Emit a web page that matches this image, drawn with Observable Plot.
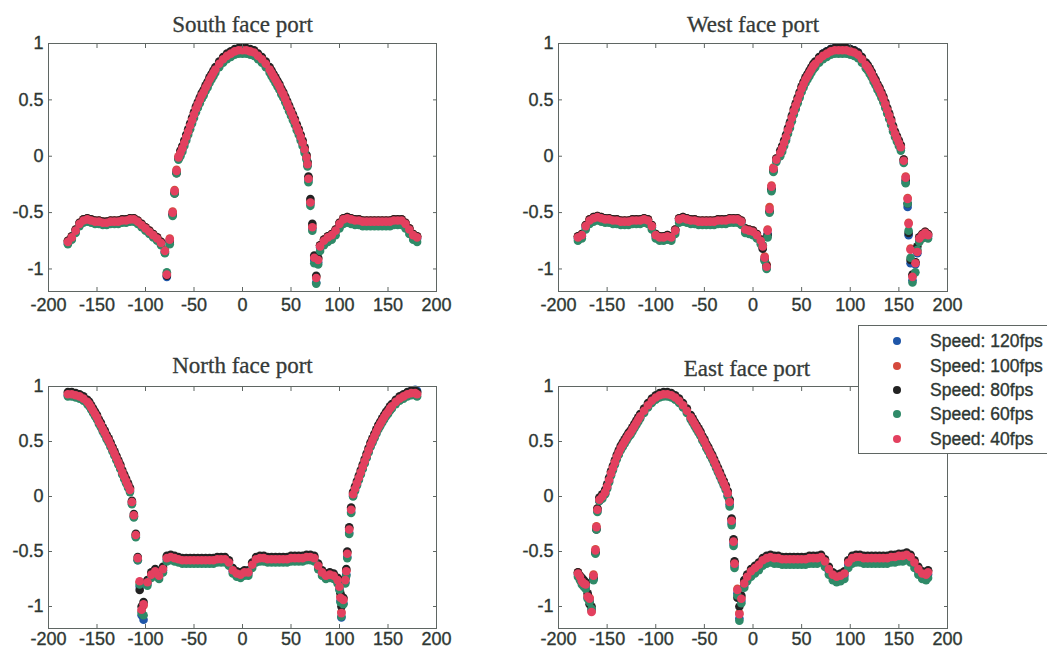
<!DOCTYPE html>
<html><head><meta charset="utf-8">
<script src="https://cdn.jsdelivr.net/npm/d3@7"></script>
<script src="https://cdn.jsdelivr.net/npm/@observablehq/plot@0.6"></script>
<style>
html,body{margin:0;padding:0;background:#fff;}
#root{position:relative;width:1047px;height:652px;overflow:hidden;background:#fff;}
.panel{position:absolute;}
.panel g[aria-label$="tick label"] text{stroke:#2e3733;stroke-width:0.35px;}
#legend{position:absolute;left:858px;top:325px;width:200px;height:127px;border:1px solid #5f6663;background:#fff;font-family:"Liberation Sans",Arial,sans-serif;font-size:17.5px;color:#2e3733;z-index:5;}
.row{position:absolute;left:0;height:24px;line-height:24px;width:200px;}
.dot{position:absolute;left:34px;top:8px;width:8px;height:8px;border-radius:50%;}
.lab{position:absolute;left:71px;white-space:nowrap;-webkit-text-stroke:0.35px #2e3733;}
</style></head><body><div id="root"></div>
<script>
const speeds = ["Speed: 120fps", "Speed: 100fps", "Speed: 80fps", "Speed: 60fps", "Speed: 40fps"];
const colors = ["#1f56a8", "#d5493c", "#222222", "#2f8a68", "#e3405f"];
const xTicks = [-200, -150, -100, -50, 0, 50, 100, 150, 200];
const yTicks = [-1, -0.5, 0, 0.5, 1];
const titles = ["South face port", "West face port", "North face port", "East face port"];

// ---------- South ----------
const southAngle = [-180,-176,-172,-168,-164,-160,-156,-152,-148,-144,-140,-136,-132,-128,-124,-120,-116,-112,-108,-104,-100,-96,-92,-88,-84,
 -80,-78,-75,-72,-70,-68,-66,
 -64,-60,-56,-52,-48,-44,-40,-36,-32,-28,-24,-20,-16,-12,-8,-4,0,4,8,12,16,20,24,28,32,36,40,44,48,52,56,60,64,
 66,67,68,70,72,74,76,78,
 80,84,88,92,96,100,104,108,112,116,120,124,128,132,136,140,144,148,152,156,160,164,168,172,176,180];
const south40 = [-0.76,-0.72,-0.66,-0.60,-0.57,-0.56,-0.57,-0.58,-0.58,-0.59,-0.59,-0.58,-0.58,-0.58,-0.57,-0.57,-0.56,-0.56,-0.58,-0.61,-0.64,-0.67,-0.70,-0.73,-0.77,
 -0.84,-1.05,-0.74,-0.50,-0.31,-0.13,-0.01,
 0.03,0.12,0.22,0.32,0.42,0.50,0.57,0.64,0.71,0.77,0.82,0.86,0.89,0.91,0.93,0.94,0.94,0.94,0.93,0.92,0.89,0.86,0.82,0.77,0.71,0.65,0.58,0.51,0.43,0.35,0.26,0.17,0.06,
 -0.01,-0.07,-0.20,-0.41,-0.63,-0.90,-1.08,-0.92,
 -0.80,-0.75,-0.72,-0.70,-0.66,-0.60,-0.56,-0.55,-0.56,-0.57,-0.57,-0.58,-0.58,-0.58,-0.58,-0.58,-0.58,-0.58,-0.58,-0.57,-0.57,-0.57,-0.60,-0.65,-0.70,-0.72];
const south80 = [-0.75,-0.71,-0.65,-0.59,-0.56,-0.55,-0.56,-0.57,-0.57,-0.58,-0.58,-0.57,-0.57,-0.57,-0.56,-0.56,-0.55,-0.55,-0.57,-0.60,-0.63,-0.66,-0.69,-0.72,-0.76,
 -0.85,-1.06,-0.76,-0.52,-0.33,-0.15,-0.02,
 0.05,0.14,0.24,0.34,0.44,0.52,0.59,0.66,0.73,0.79,0.84,0.88,0.91,0.93,0.95,0.96,0.96,0.96,0.95,0.94,0.91,0.88,0.84,0.79,0.73,0.67,0.60,0.53,0.45,0.37,0.28,0.19,0.08,
 0.01,-0.05,-0.18,-0.38,-0.60,-0.88,-1.06,-0.90,
 -0.79,-0.74,-0.71,-0.69,-0.65,-0.59,-0.55,-0.54,-0.55,-0.56,-0.56,-0.57,-0.57,-0.57,-0.57,-0.57,-0.57,-0.57,-0.57,-0.56,-0.56,-0.56,-0.59,-0.64,-0.69,-0.71];
const south60 = [-0.78,-0.74,-0.68,-0.62,-0.59,-0.58,-0.59,-0.60,-0.60,-0.61,-0.61,-0.60,-0.60,-0.60,-0.59,-0.59,-0.58,-0.58,-0.60,-0.63,-0.66,-0.69,-0.72,-0.75,-0.79,
 -0.86,-1.03,-0.78,-0.53,-0.33,-0.15,-0.03,
 0.00,0.09,0.19,0.29,0.39,0.47,0.54,0.61,0.68,0.74,0.79,0.83,0.86,0.88,0.90,0.91,0.91,0.91,0.90,0.89,0.86,0.83,0.79,0.74,0.68,0.62,0.55,0.48,0.40,0.32,0.23,0.14,0.03,
 -0.03,-0.09,-0.23,-0.44,-0.66,-0.95,-1.13,-0.96,
 -0.84,-0.79,-0.76,-0.74,-0.70,-0.64,-0.60,-0.59,-0.60,-0.61,-0.61,-0.62,-0.62,-0.62,-0.62,-0.62,-0.62,-0.62,-0.62,-0.61,-0.61,-0.61,-0.64,-0.69,-0.74,-0.76];
const south100 = [-0.75,-0.71,-0.65,-0.59,-0.56,-0.55,-0.56,-0.57,-0.57,-0.58,-0.58,-0.57,-0.57,-0.57,-0.56,-0.56,-0.55,-0.55,-0.57,-0.60,-0.63,-0.66,-0.69,-0.72,-0.76,
 -0.83,-1.04,-0.73,-0.49,-0.30,-0.12,0.00,
 0.04,0.13,0.23,0.33,0.43,0.51,0.58,0.65,0.72,0.78,0.83,0.87,0.90,0.92,0.94,0.95,0.95,0.95,0.94,0.93,0.90,0.87,0.83,0.78,0.72,0.66,0.59,0.52,0.44,0.36,0.27,0.18,0.07,
 0.00,-0.06,-0.19,-0.40,-0.62,-0.89,-1.07,-0.91,
 -0.79,-0.74,-0.71,-0.69,-0.65,-0.59,-0.55,-0.54,-0.55,-0.56,-0.56,-0.57,-0.57,-0.57,-0.57,-0.57,-0.57,-0.57,-0.57,-0.56,-0.56,-0.56,-0.59,-0.64,-0.69,-0.71];
const south120 = [-0.77,-0.73,-0.67,-0.61,-0.58,-0.57,-0.58,-0.59,-0.59,-0.60,-0.60,-0.59,-0.59,-0.59,-0.58,-0.58,-0.57,-0.57,-0.59,-0.62,-0.65,-0.68,-0.71,-0.74,-0.78,
 -0.85,-1.07,-0.75,-0.51,-0.32,-0.14,-0.02,
 0.02,0.11,0.21,0.31,0.41,0.49,0.56,0.63,0.70,0.76,0.81,0.85,0.88,0.90,0.92,0.93,0.93,0.93,0.92,0.91,0.88,0.85,0.81,0.76,0.70,0.64,0.57,0.50,0.42,0.34,0.25,0.16,0.05,
 -0.02,-0.08,-0.21,-0.42,-0.64,-0.92,-1.12,-0.94,
 -0.81,-0.76,-0.73,-0.71,-0.67,-0.61,-0.57,-0.56,-0.57,-0.58,-0.58,-0.59,-0.59,-0.59,-0.59,-0.59,-0.59,-0.59,-0.59,-0.58,-0.58,-0.58,-0.61,-0.66,-0.71,-0.73];
// extra readings on the steep flanks of the South peak
const southFlankAngle = [-62,-58,-54,-50,-46,-42,-38,-34,-30, 30,34,38,42,46,50,54,58,62];
const southFlank40 = [0.07,0.17,0.27,0.37,0.46,0.54,0.61,0.68,0.74, 0.74,0.68,0.62,0.55,0.47,0.39,0.31,0.22,0.12];
const southFlank80 = [0.09,0.19,0.29,0.39,0.48,0.56,0.63,0.70,0.76, 0.76,0.70,0.64,0.57,0.49,0.41,0.33,0.24,0.14];
const southFlank60 = [0.04,0.14,0.24,0.34,0.43,0.51,0.58,0.65,0.71, 0.71,0.65,0.59,0.52,0.44,0.36,0.28,0.19,0.09];
const southFlank100 = [0.08,0.18,0.28,0.38,0.47,0.55,0.62,0.69,0.75, 0.75,0.69,0.63,0.56,0.48,0.40,0.32,0.23,0.13];
const southFlank120 = [0.06,0.16,0.26,0.36,0.45,0.53,0.60,0.67,0.73, 0.73,0.67,0.61,0.54,0.46,0.38,0.30,0.21,0.11];

// ---------- West ----------
const westAngle = [-180,-176,-172,-168,-164,-160,-156,-152,-148,-144,-140,-136,-132,-128,-124,-120,-116,-112,-108,-104,-100,-96,-92,-88,-84,-80,-76,-72,-68,-64,-60,-56,-52,-48,-44,-40,-36,-32,-28,-24,-20,-16,-12,-8,-4,0,4,8,
 10,12,14,15,17,19,21,24,
 28,32,36,40,44,48,52,56,60,64,68,72,76,80,84,88,92,96,100,104,108,112,116,120,124,128,132,136,140,144,148,152,
 155,157,159,160,162,164,167,169,
 171,174,177,180];
const west40 = [-0.72,-0.70,-0.62,-0.57,-0.55,-0.54,-0.55,-0.56,-0.56,-0.57,-0.57,-0.58,-0.58,-0.58,-0.57,-0.57,-0.57,-0.56,-0.57,-0.62,-0.70,-0.72,-0.72,-0.71,-0.72,-0.66,-0.56,-0.55,-0.56,-0.57,-0.57,-0.58,-0.58,-0.58,-0.58,-0.58,-0.57,-0.57,-0.57,-0.56,-0.56,-0.56,-0.58,-0.65,-0.66,-0.67,-0.70,-0.75,
 -0.80,-0.90,-0.98,-0.66,-0.47,-0.27,-0.11,-0.03,
 0.03,0.12,0.23,0.34,0.45,0.55,0.64,0.71,0.77,0.82,0.86,0.89,0.91,0.93,0.94,0.94,0.94,0.94,0.93,0.92,0.90,0.86,0.81,0.76,0.69,0.62,0.55,0.46,0.36,0.25,0.16,0.08,
 -0.04,-0.19,-0.38,-0.60,-0.83,-1.07,-0.95,-0.85,
 -0.73,-0.70,-0.68,-0.70];
const west80 = [-0.71,-0.69,-0.61,-0.56,-0.54,-0.53,-0.54,-0.55,-0.55,-0.56,-0.56,-0.57,-0.57,-0.57,-0.56,-0.56,-0.56,-0.55,-0.56,-0.61,-0.69,-0.71,-0.71,-0.70,-0.71,-0.65,-0.55,-0.54,-0.55,-0.56,-0.56,-0.57,-0.57,-0.57,-0.57,-0.57,-0.56,-0.56,-0.56,-0.55,-0.55,-0.55,-0.57,-0.64,-0.65,-0.66,-0.69,-0.74,
 -0.82,-0.92,-0.97,-0.70,-0.49,-0.29,-0.13,-0.02,
 0.05,0.14,0.25,0.36,0.47,0.57,0.66,0.73,0.79,0.84,0.88,0.91,0.93,0.95,0.96,0.96,0.96,0.96,0.95,0.94,0.92,0.88,0.83,0.78,0.71,0.64,0.57,0.48,0.38,0.27,0.18,0.10,
 -0.03,-0.21,-0.42,-0.68,-0.92,-1.05,-0.94,-0.80,
 -0.72,-0.69,-0.67,-0.69];
const west60 = [-0.75,-0.73,-0.65,-0.60,-0.58,-0.57,-0.58,-0.59,-0.59,-0.60,-0.60,-0.61,-0.61,-0.61,-0.60,-0.60,-0.60,-0.59,-0.60,-0.65,-0.73,-0.75,-0.75,-0.74,-0.75,-0.69,-0.59,-0.58,-0.59,-0.60,-0.60,-0.61,-0.61,-0.61,-0.61,-0.61,-0.60,-0.60,-0.60,-0.59,-0.59,-0.59,-0.61,-0.68,-0.69,-0.70,-0.73,-0.78,
 -0.79,-0.93,-1.00,-0.72,-0.50,-0.31,-0.14,-0.05,
 0.00,0.09,0.20,0.31,0.42,0.52,0.61,0.68,0.74,0.79,0.83,0.86,0.88,0.90,0.91,0.91,0.91,0.91,0.90,0.89,0.87,0.83,0.78,0.73,0.66,0.59,0.52,0.43,0.33,0.22,0.13,0.05,
 -0.06,-0.24,-0.42,-0.66,-0.90,-1.12,-1.03,-0.83,
 -0.76,-0.73,-0.71,-0.73];
const west100 = [-0.71,-0.69,-0.61,-0.56,-0.54,-0.53,-0.54,-0.55,-0.55,-0.56,-0.56,-0.57,-0.57,-0.57,-0.56,-0.56,-0.56,-0.55,-0.56,-0.61,-0.69,-0.71,-0.71,-0.70,-0.71,-0.65,-0.55,-0.54,-0.55,-0.56,-0.56,-0.57,-0.57,-0.57,-0.57,-0.57,-0.56,-0.56,-0.56,-0.55,-0.55,-0.55,-0.57,-0.64,-0.65,-0.66,-0.69,-0.74,
 -0.79,-0.89,-0.96,-0.65,-0.45,-0.26,-0.10,-0.02,
 0.04,0.13,0.24,0.35,0.46,0.56,0.65,0.72,0.78,0.83,0.87,0.90,0.92,0.94,0.95,0.95,0.95,0.95,0.94,0.93,0.91,0.87,0.82,0.77,0.70,0.63,0.56,0.47,0.37,0.26,0.17,0.09,
 -0.03,-0.18,-0.37,-0.59,-0.82,-1.06,-0.94,-0.84,
 -0.72,-0.69,-0.67,-0.69];
const west120 = [-0.73,-0.71,-0.63,-0.58,-0.56,-0.55,-0.56,-0.57,-0.57,-0.58,-0.58,-0.59,-0.59,-0.59,-0.58,-0.58,-0.58,-0.57,-0.58,-0.63,-0.71,-0.73,-0.73,-0.72,-0.73,-0.67,-0.57,-0.56,-0.57,-0.58,-0.58,-0.59,-0.59,-0.59,-0.59,-0.59,-0.58,-0.58,-0.58,-0.57,-0.57,-0.57,-0.59,-0.66,-0.67,-0.68,-0.71,-0.76,
 -0.81,-0.91,-0.99,-0.69,-0.49,-0.29,-0.12,-0.04,
 0.02,0.11,0.22,0.33,0.44,0.54,0.63,0.70,0.76,0.82,0.87,0.91,0.93,0.95,0.96,0.96,0.96,0.96,0.95,0.94,0.92,0.86,0.80,0.75,0.68,0.61,0.54,0.45,0.35,0.24,0.15,0.07,
 -0.05,-0.23,-0.45,-0.70,-0.95,-1.10,-0.96,-0.86,
 -0.74,-0.71,-0.69,-0.71];
const westFlankAngle = [30,34,38,42,46,50,54,58,62, 118,122,126,130,134,138,142,146,150];
const westFlank40 = [0.07,0.17,0.28,0.40,0.50,0.60,0.68,0.74,0.80, 0.79,0.73,0.66,0.59,0.51,0.41,0.31,0.20,0.12];
const westFlank80 = [0.09,0.19,0.30,0.42,0.52,0.62,0.70,0.76,0.82, 0.81,0.75,0.68,0.61,0.53,0.43,0.33,0.22,0.14];
const westFlank60 = [0.04,0.14,0.25,0.37,0.47,0.57,0.65,0.71,0.77, 0.76,0.70,0.63,0.56,0.48,0.38,0.28,0.17,0.09];
const westFlank100 = [0.08,0.18,0.29,0.41,0.51,0.61,0.69,0.75,0.81, 0.80,0.74,0.67,0.60,0.52,0.42,0.32,0.21,0.13];
const westFlank120 = [0.06,0.16,0.27,0.39,0.49,0.59,0.67,0.73,0.79, 0.78,0.72,0.65,0.58,0.50,0.40,0.30,0.19,0.11];

// ---------- North ----------
const northAngle = [-180,-176,-172,-168,-164,-160,-156,-152,-148,-144,-140,-136,-132,-128,-124,-120,-116,
 -114,-112,-110,-108,-106,-104,-102,
 -98,-94,-90,-86,-82,-78,-74,-70,-66,-62,-58,-54,-50,-46,-42,-38,-34,-30,-26,-22,-18,-14,-10,-6,-2,2,6,10,14,18,22,26,30,34,38,42,46,50,54,58,62,66,70,74,78,82,86,90,94,98,
 100,101,102,104,106,107,108,110,112,
 114,118,122,126,130,134,138,142,146,150,154,158,162,166,170,174,178,180];
const north40 = [0.93,0.93,0.92,0.91,0.89,0.86,0.81,0.75,0.68,0.61,0.54,0.47,0.39,0.31,0.22,0.14,0.06,
 -0.05,-0.17,-0.35,-0.56,-0.77,-1.03,-0.98,
 -0.78,-0.71,-0.68,-0.72,-0.66,-0.56,-0.55,-0.56,-0.57,-0.58,
 -0.58,-0.58,-0.58,-0.58,-0.58,-0.58,-0.58,-0.58,-0.57,-0.57,
 -0.57,-0.60,-0.67,-0.70,-0.71,-0.69,-0.69,-0.62,-0.57,-0.56,
 -0.56,-0.57,-0.57,-0.57,-0.57,-0.57,-0.57,-0.56,-0.56,-0.56,
 -0.56,-0.55,-0.55,-0.56,-0.63,-0.69,-0.72,-0.71,-0.72,-0.76,
 -0.82,-0.92,-1.06,-0.94,-0.76,-0.68,-0.52,-0.30,-0.12,
 0.02,0.12,0.22,0.32,0.42,0.51,0.59,0.66,0.72,0.77,0.82,0.86,0.89,0.91,0.93,0.94,0.94,0.93];
const north80 = [0.95,0.95,0.94,0.93,0.91,0.88,0.83,0.77,0.70,0.63,0.56,0.49,0.41,0.33,0.24,0.16,0.08,
 -0.04,-0.16,-0.34,-0.55,-0.85,-1.00,-0.96,
 -0.76,-0.69,-0.66,-0.70,-0.64,-0.54,-0.53,-0.54,-0.55,-0.56,
 -0.56,-0.56,-0.56,-0.56,-0.56,-0.56,-0.56,-0.56,-0.55,-0.55,
 -0.55,-0.58,-0.65,-0.68,-0.69,-0.67,-0.67,-0.60,-0.55,-0.54,
 -0.54,-0.55,-0.55,-0.55,-0.55,-0.55,-0.55,-0.54,-0.54,-0.54,
 -0.54,-0.53,-0.53,-0.54,-0.61,-0.67,-0.70,-0.69,-0.70,-0.74,
 -0.80,-0.88,-1.00,-0.92,-0.74,-0.66,-0.50,-0.28,-0.10,
 0.04,0.14,0.24,0.34,0.44,0.53,0.61,0.68,0.74,0.79,0.84,0.88,0.91,0.93,0.95,0.96,0.96,0.95];
const north60 = [0.91,0.91,0.90,0.89,0.87,0.84,0.79,0.73,0.66,0.59,0.52,0.45,0.37,0.29,0.20,0.12,0.04,
 -0.07,-0.19,-0.37,-0.58,-0.80,-1.06,-1.08,
 -0.81,-0.74,-0.71,-0.75,-0.69,-0.59,-0.58,-0.59,-0.60,-0.61,
 -0.61,-0.61,-0.61,-0.61,-0.61,-0.61,-0.61,-0.61,-0.60,-0.60,
 -0.60,-0.63,-0.70,-0.73,-0.74,-0.72,-0.72,-0.65,-0.60,-0.59,
 -0.59,-0.60,-0.60,-0.60,-0.60,-0.60,-0.60,-0.59,-0.59,-0.59,
 -0.59,-0.58,-0.58,-0.59,-0.66,-0.72,-0.75,-0.74,-0.75,-0.79,
 -0.85,-0.96,-1.09,-0.98,-0.79,-0.72,-0.56,-0.34,-0.15,
 0.00,0.10,0.20,0.30,0.40,0.49,0.57,0.64,0.70,0.75,0.80,0.84,0.87,0.89,0.91,0.92,0.92,0.91];
const north100 = [0.94,0.94,0.93,0.92,0.90,0.87,0.82,0.76,0.69,0.62,0.55,0.48,0.40,0.32,0.23,0.15,0.07,
 -0.05,-0.18,-0.35,-0.57,-0.78,-1.04,-0.99,
 -0.77,-0.70,-0.67,-0.71,-0.65,-0.55,-0.54,-0.55,-0.56,-0.57,
 -0.57,-0.57,-0.57,-0.57,-0.57,-0.57,-0.57,-0.57,-0.56,-0.56,
 -0.56,-0.59,-0.66,-0.69,-0.70,-0.68,-0.68,-0.61,-0.56,-0.55,
 -0.55,-0.56,-0.56,-0.56,-0.56,-0.56,-0.56,-0.55,-0.55,-0.55,
 -0.55,-0.54,-0.54,-0.55,-0.62,-0.68,-0.71,-0.70,-0.71,-0.75,
 -0.81,-0.91,-1.05,-0.93,-0.75,-0.67,-0.51,-0.29,-0.11,
 0.03,0.13,0.23,0.33,0.43,0.52,0.60,0.67,0.73,0.78,0.83,0.87,0.90,0.92,0.94,0.95,0.95,0.94];
const north120 = [0.92,0.92,0.91,0.90,0.88,0.85,0.80,0.74,0.67,0.60,0.53,0.46,0.38,0.30,0.21,0.13,0.05,
 -0.06,-0.18,-0.36,-0.58,-0.82,-1.08,-1.12,
 -0.79,-0.72,-0.69,-0.73,-0.67,-0.57,-0.56,-0.57,-0.58,-0.59,
 -0.59,-0.59,-0.59,-0.59,-0.59,-0.59,-0.59,-0.59,-0.58,-0.58,
 -0.58,-0.61,-0.68,-0.71,-0.72,-0.70,-0.70,-0.63,-0.58,-0.57,
 -0.57,-0.58,-0.58,-0.58,-0.58,-0.58,-0.58,-0.57,-0.57,-0.57,
 -0.57,-0.56,-0.56,-0.57,-0.64,-0.70,-0.73,-0.72,-0.73,-0.77,
 -0.84,-0.95,-1.10,-0.97,-0.78,-0.71,-0.55,-0.33,-0.14,
 0.01,0.11,0.21,0.31,0.41,0.50,0.58,0.65,0.71,0.76,0.81,0.85,0.88,0.91,0.94,0.96,0.97,0.96];
const northFlankAngle = [-158,-154,-150,-146,-142,-138,-134,-130,-126,-122,-118, 116,120,124,128,132,136,140,144,148,152];
const northFlank40 = [0.84,0.78,0.72,0.65,0.58,0.51,0.43,0.35,0.27,0.18,0.10, 0.07,0.17,0.27,0.37,0.47,0.55,0.63,0.69,0.75,0.80];
const northFlank80 = [0.86,0.80,0.74,0.67,0.60,0.53,0.45,0.37,0.29,0.20,0.12, 0.09,0.19,0.29,0.39,0.49,0.57,0.65,0.71,0.77,0.82];
const northFlank60 = [0.82,0.76,0.70,0.63,0.56,0.49,0.41,0.33,0.25,0.16,0.08, 0.05,0.15,0.25,0.35,0.45,0.53,0.61,0.67,0.73,0.78];
const northFlank100 = [0.85,0.79,0.73,0.66,0.59,0.52,0.44,0.36,0.28,0.19,0.11, 0.08,0.18,0.28,0.38,0.48,0.56,0.64,0.70,0.76,0.81];
const northFlank120 = [0.83,0.77,0.71,0.64,0.57,0.50,0.42,0.34,0.26,0.17,0.09, 0.06,0.16,0.26,0.36,0.46,0.54,0.62,0.68,0.74,0.79];

// ---------- East ----------
const eastAngle = [-180,-178,-176,-174,-172,-170,-168,-166,-164,-162,-161,-160,-158,
 -155,-152,-148,-144,-140,-136,-132,-128,-124,-120,-116,-112,-108,-104,-100,-96,-92,-88,-84,-80,-76,-72,-68,-64,-60,-56,-52,-48,-44,-40,-36,-32,-28,
 -26,-24,-22,-20,-19,-16,-14,-12,-9,-6,
 -2,2,6,10,14,18,22,26,30,34,38,42,46,50,54,58,62,66,70,74,78,82,86,90,94,98,102,106,110,114,118,122,126,130,134,138,142,146,150,154,158,162,166,170,174,178,180];
const east40 = [-0.70,-0.73,-0.77,-0.79,-0.80,-0.91,-0.93,-1.05,-0.72,-0.49,-0.28,-0.12,-0.03,
 0.00,0.04,0.15,0.26,0.36,0.44,0.50,0.56,0.61,0.67,0.73,0.78,0.83,0.87,0.90,0.92,0.93,0.93,0.92,0.90,0.87,0.83,0.78,0.72,0.66,0.60,0.53,0.46,0.39,0.32,0.24,0.16,0.08,
 0.03,-0.05,-0.22,-0.41,-0.61,-0.85,-1.07,-0.93,-0.79,-0.73,
 -0.68,-0.65,-0.62,-0.58,-0.56,-0.55,-0.56,-0.56,-0.57,-0.57,
 -0.57,-0.57,-0.57,-0.57,-0.57,-0.56,-0.56,-0.56,-0.55,-0.59,
 -0.66,-0.71,-0.73,-0.72,-0.70,-0.60,-0.56,-0.55,-0.55,-0.56,
 -0.56,-0.56,-0.56,-0.56,-0.56,-0.56,-0.55,-0.55,-0.54,-0.54,
 -0.53,-0.55,-0.60,-0.66,-0.70,-0.71,-0.69];
const east80 = [-0.69,-0.72,-0.74,-0.76,-0.78,-0.88,-0.98,-1.00,-0.74,-0.51,-0.30,-0.11,-0.01,
 0.02,0.06,0.17,0.28,0.38,0.46,0.52,0.58,0.63,0.69,0.75,0.80,0.85,0.89,0.92,0.94,0.95,0.95,0.94,0.92,0.89,0.85,0.80,0.74,0.68,0.62,0.55,0.48,0.41,0.34,0.26,0.18,0.10,
 0.05,-0.03,-0.20,-0.39,-0.59,-0.92,-1.00,-0.90,-0.76,-0.71,
 -0.66,-0.63,-0.60,-0.56,-0.54,-0.53,-0.54,-0.54,-0.55,-0.55,
 -0.55,-0.55,-0.55,-0.55,-0.55,-0.54,-0.54,-0.54,-0.53,-0.57,
 -0.64,-0.69,-0.71,-0.70,-0.68,-0.58,-0.54,-0.53,-0.53,-0.54,
 -0.54,-0.54,-0.54,-0.54,-0.54,-0.54,-0.53,-0.53,-0.52,-0.52,
 -0.51,-0.53,-0.58,-0.64,-0.68,-0.69,-0.67];
const east60 = [-0.73,-0.76,-0.80,-0.82,-0.84,-0.93,-0.96,-1.02,-0.76,-0.52,-0.30,-0.14,-0.04,
 -0.02,0.02,0.13,0.24,0.34,0.42,0.48,0.54,0.59,0.65,0.71,0.76,0.81,0.85,0.88,0.90,0.91,0.91,0.90,0.88,0.85,0.81,0.76,0.70,0.64,0.58,0.51,0.44,0.37,0.30,0.22,0.14,0.06,
 0.00,-0.09,-0.26,-0.45,-0.65,-0.90,-1.13,-0.97,-0.83,-0.77,
 -0.73,-0.70,-0.67,-0.63,-0.61,-0.60,-0.61,-0.61,-0.62,-0.62,
 -0.62,-0.62,-0.62,-0.62,-0.62,-0.61,-0.61,-0.61,-0.60,-0.64,
 -0.71,-0.76,-0.78,-0.77,-0.75,-0.65,-0.61,-0.60,-0.60,-0.61,
 -0.61,-0.61,-0.61,-0.61,-0.61,-0.61,-0.60,-0.60,-0.59,-0.59,
 -0.58,-0.60,-0.65,-0.71,-0.75,-0.76,-0.74];
const east100 = [-0.69,-0.72,-0.76,-0.78,-0.79,-0.90,-0.92,-1.04,-0.71,-0.48,-0.27,-0.11,-0.02,
 0.01,0.05,0.16,0.27,0.37,0.45,0.51,0.57,0.62,0.68,0.74,0.79,0.84,0.88,0.91,0.93,0.94,0.94,0.93,0.91,0.88,0.84,0.79,0.73,0.67,0.61,0.54,0.47,0.40,0.33,0.25,0.17,0.09,
 0.04,-0.04,-0.21,-0.40,-0.60,-0.84,-1.06,-0.92,-0.78,-0.72,
 -0.67,-0.64,-0.61,-0.57,-0.55,-0.54,-0.55,-0.55,-0.56,-0.56,
 -0.56,-0.56,-0.56,-0.56,-0.56,-0.55,-0.55,-0.55,-0.54,-0.58,
 -0.65,-0.70,-0.72,-0.71,-0.69,-0.59,-0.55,-0.54,-0.54,-0.55,
 -0.55,-0.55,-0.55,-0.55,-0.55,-0.55,-0.54,-0.54,-0.53,-0.53,
 -0.52,-0.54,-0.59,-0.65,-0.69,-0.70,-0.68];
const east120 = [-0.71,-0.74,-0.78,-0.80,-0.81,-0.92,-0.95,-1.03,-0.75,-0.51,-0.29,-0.13,-0.04,
 -0.01,0.03,0.14,0.25,0.35,0.43,0.49,0.55,0.60,0.66,0.72,0.77,0.82,0.86,0.89,0.91,0.92,0.92,0.91,0.89,0.86,0.82,0.77,0.71,0.65,0.59,0.52,0.45,0.38,0.31,0.23,0.15,0.07,
 0.01,-0.07,-0.24,-0.43,-0.63,-0.88,-1.11,-0.95,-0.81,-0.75,
 -0.70,-0.67,-0.64,-0.60,-0.58,-0.57,-0.58,-0.58,-0.59,-0.59,
 -0.59,-0.59,-0.59,-0.59,-0.59,-0.58,-0.58,-0.58,-0.57,-0.61,
 -0.68,-0.73,-0.75,-0.74,-0.72,-0.62,-0.58,-0.57,-0.57,-0.58,
 -0.58,-0.58,-0.58,-0.58,-0.58,-0.58,-0.57,-0.57,-0.56,-0.56,
 -0.55,-0.57,-0.62,-0.68,-0.72,-0.73,-0.71];
const eastFlankAngle = [-150,-146,-142,-138,-134,-130,-126,-122,-118, -62,-58,-54,-50,-46,-42,-38,-34,-30];
const eastFlank40 = [0.09,0.21,0.31,0.40,0.47,0.53,0.58,0.64,0.70, 0.69,0.63,0.57,0.50,0.43,0.36,0.28,0.20,0.12];
const eastFlank80 = [0.11,0.23,0.33,0.42,0.49,0.55,0.60,0.66,0.72, 0.71,0.65,0.59,0.52,0.45,0.38,0.30,0.22,0.14];
const eastFlank60 = [0.07,0.19,0.29,0.38,0.45,0.51,0.56,0.62,0.68, 0.67,0.61,0.55,0.48,0.41,0.34,0.26,0.18,0.10];
const eastFlank100 = [0.10,0.22,0.32,0.41,0.48,0.54,0.59,0.65,0.71, 0.70,0.64,0.58,0.51,0.44,0.37,0.29,0.21,0.13];
const eastFlank120 = [0.08,0.20,0.30,0.39,0.46,0.52,0.57,0.63,0.69, 0.68,0.62,0.56,0.49,0.42,0.35,0.27,0.19,0.11];

// ---------- layout (not data) ----------
const layout = [
  {angle: southAngle, series: [south120, south100, south80, south60, south40], flank: southFlankAngle, flankSeries: [southFlank120, southFlank100, southFlank80, southFlank60, southFlank40], left: 0, top: 0, width: 460, height: 321, ml: 48, mt: 43, fw: 388, fh: 248, tp: 7, tdx: 0, tdy: -19},
  {angle: westAngle, series: [west120, west100, west80, west60, west40], flank: westFlankAngle, flankSeries: [westFlank120, westFlank100, westFlank80, westFlank60, westFlank40], left: 500, top: 0, width: 470, height: 321, ml: 58, mt: 43, fw: 389, fh: 248, tp: 7, tdx: 0, tdy: -19},
  {angle: northAngle, series: [north120, north100, north80, north60, north40], flank: northFlankAngle, flankSeries: [northFlank120, northFlank100, northFlank80, northFlank60, northFlank40], left: 0, top: 321, width: 460, height: 331, ml: 48, mt: 65, fw: 388, fh: 242, tp: 4, tdx: 0, tdy: -21},
  {angle: eastAngle, series: [east120, east100, east80, east60, east40], flank: eastFlankAngle, flankSeries: [eastFlank120, eastFlank100, eastFlank80, eastFlank60, eastFlank40], left: 500, top: 321, width: 470, height: 331, ml: 58, mt: 65, fw: 389, fh: 242, tp: 4, tdx: -6, tdy: -18}
];

const root = document.getElementById("root");
const textColor = "#2e3733";
const lineColor = "#5f6663";
const sans = "Liberation Sans, Arial, sans-serif";

layout.forEach((p, k) => {
  p.series.forEach((s, i) => { if (s.length !== p.angle.length) console.error(titles[k], speeds[i], s.length, p.angle.length); });
  p.flankSeries.forEach((s, i) => { if (s.length !== p.flank.length) console.error(titles[k], "flank", speeds[i], s.length, p.flank.length); });
  const data = speeds.flatMap((s, i) => [
    ...p.angle.map((a, j) => ({angle: a, value: p.series[i][j], speed: s})),
    ...p.flank.map((a, j) => ({angle: a, value: p.flankSeries[i][j], speed: s}))
  ]);
  const chart = Plot.plot({
    width: p.width, height: p.height,
    marginLeft: p.ml, marginRight: p.width - p.ml - p.fw,
    marginTop: p.mt, marginBottom: p.height - p.mt - p.fh,
    x: {domain: [-200, 200]},
    y: {domain: [-1.2, 1]},
    color: {domain: speeds, range: colors},
    style: {fontFamily: sans, fontSize: "18px", color: textColor, background: "transparent", overflow: "visible"},
    marks: [
      Plot.dot(data, {x: "angle", y: "value", fill: "speed", r: 4.3}),
      Plot.frame({stroke: lineColor, strokeWidth: 1}),
      Plot.axisX(xTicks, {anchor: "bottom", tickSize: 0, tickPadding: p.tp, tickFormat: d => String(d), label: null, fontSize: 18, fill: textColor}),
      Plot.axisX(xTicks, {anchor: "bottom", tickSize: -4, tickFormat: () => "", label: null, stroke: lineColor}),
      Plot.axisX(xTicks, {anchor: "top", tickSize: -4, tickFormat: () => "", label: null, stroke: lineColor}),
      Plot.axisY(yTicks, {anchor: "left", tickSize: 0, tickPadding: 5, tickFormat: d => String(d), label: null, fontSize: 18, fill: textColor}),
      Plot.axisY(yTicks, {anchor: "left", tickSize: -4, tickFormat: () => "", label: null, stroke: lineColor}),
      Plot.axisY(yTicks, {anchor: "right", tickSize: -4, tickFormat: () => "", label: null, stroke: lineColor}),
      Plot.text([titles[k]], {frameAnchor: "top", dx: p.tdx, dy: p.tdy, lineAnchor: "middle", fontFamily: "Liberation Serif, Times New Roman, serif", fontSize: 23, fill: "#353a38", stroke: "#353a38", strokeWidth: 0.3})
    ]
  });
  chart.classList.add("panel");
  chart.style.left = p.left + "px";
  chart.style.top = p.top + "px";
  root.appendChild(chart);
});

// legend
const legend = document.createElement("div");
legend.id = "legend";
const rowTops = [3, 27.5, 52, 76, 100.5];
speeds.forEach((s, i) => {
  const row = document.createElement("div");
  row.className = "row";
  row.style.top = rowTops[i] + "px";
  const dot = document.createElement("span");
  dot.className = "dot";
  dot.style.background = colors[i];
  const lab = document.createElement("span");
  lab.className = "lab";
  lab.textContent = s;
  row.appendChild(dot); row.appendChild(lab);
  legend.appendChild(row);
});
root.appendChild(legend);
</script></body></html>
